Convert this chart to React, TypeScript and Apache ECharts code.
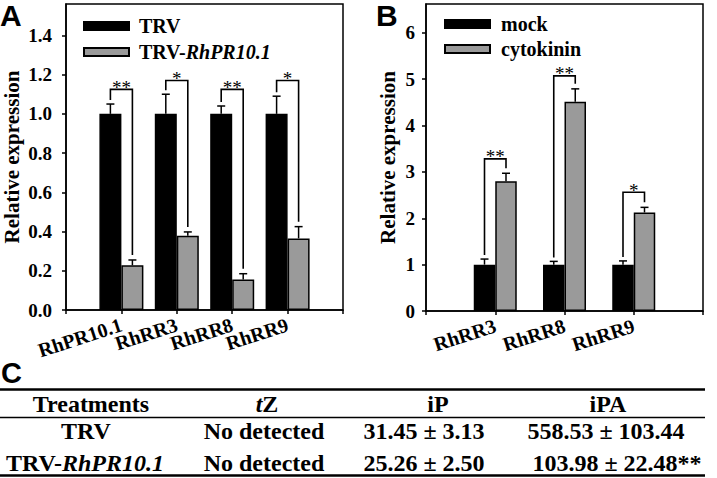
import React, { useEffect, useRef } from 'react';
import * as echarts from 'echarts';

// ---------- Panel A data ----------
const genesA = ['RhPR10.1', 'RhRR3', 'RhRR8', 'RhRR9'];
const trvMean = [1.0, 1.0, 1.0, 1.0];
const trvErr = [0.05, 0.1, 0.04, 0.09];
const silMean = [0.228, 0.378, 0.155, 0.365];
const silErr = [0.027, 0.02, 0.03, 0.06];
const sigA = ['**', '*', '**', '*'];
const bracketA = [1.125, 1.17, 1.125, 1.17];

// ---------- Panel B data ----------
const genesB = ['RhRR3', 'RhRR8', 'RhRR9'];
const mockMean = [1.0, 1.0, 1.0];
const mockErr = [0.12, 0.07, 0.08];
const ckMean = [2.8, 4.51, 2.125];
const ckErr = [0.17, 0.28, 0.11];
const sigB = ['**', '**', '*'];
const bracketB = [3.28, 5.07, 2.56];

// ---------- Table C data ----------
const tableHeaders = ['Treatments', 'tZ', 'iP', 'iPA'];
const tableTreatments = ['TRV', 'TRV-RhPR10.1'];
const tableTZ = ['No detected', 'No detected'];
const tableIP = ['31.45 ± 3.13', '25.26 ± 2.50'];
const tableIPA = ['558.53 ± 103.44', '103.98 ± 22.48**'];

const SERIF = '"Liberation Serif", "Times New Roman", serif';
const SANS = '"Liberation Sans", Arial, sans-serif';
const GRAY = '#9a9a9a';

const richFmt = (s: string) => {
  if (s === 'tZ') return '{i|t}{b|Z}';
  const m = s.match(/^(TRV-)(.+)$/);
  if (m) return `{b|${m[1]}}{i|${m[2]}}`;
  return `{b|${s}}`;
};

const pad = (arr: any[]) => ['-', ...arr, '-'];

function errRender(barW: number, sign: number) {
  return (params: any, api: any) => {
    const x = api.value(0);
    const m = api.value(1);
    const e = api.value(2);
    const base = api.coord([x, m]);
    const top = api.coord([x, m + e]);
    const cx = base[0] + (sign * barW) / 2;
    return {
      type: 'group',
      children: [
        { type: 'line', shape: { x1: cx, y1: base[1], x2: cx, y2: top[1] }, style: { stroke: '#000', lineWidth: 1.5 } },
        { type: 'line', shape: { x1: cx - 4, y1: top[1], x2: cx + 4, y2: top[1] }, style: { stroke: '#000', lineWidth: 1.5 } },
      ],
    };
  };
}

function bracketRender(barW: number, sigs: string[]) {
  return (params: any, api: any) => {
    const x = api.value(0);
    const lTop = api.coord([x, api.value(1)]);
    const rTop = api.coord([x, api.value(2)]);
    const b = api.coord([x, api.value(3)]);
    const xl = lTop[0] - barW / 2;
    const xr = lTop[0] + barW / 2;
    return {
      type: 'group',
      children: [
        {
          type: 'polyline',
          shape: { points: [[xl, lTop[1] - 4], [xl, b[1]], [xr, b[1]], [xr, rTop[1] - 5]] },
          style: { stroke: '#000', lineWidth: 1.6, fill: 'none' },
        },
        {
          type: 'text',
          style: {
            text: sigs[params.dataIndex],
            x: (xl + xr) / 2,
            y: b[1] - 2,
            align: 'center',
            verticalAlign: 'middle',
            fontSize: 19,
            fontFamily: SERIF,
            fill: '#000',
          },
        },
      ],
    };
  };
}

export default function App() {
  const ref = useRef<HTMLDivElement>(null);
  useEffect(() => {
    if (!ref.current) return;
    const chart = echarts.init(ref.current, null, { renderer: 'svg' });
    const BW_A = 22;
    const BW_B = 21.5;
    const axisFont = { fontFamily: SERIF, fontWeight: 'bold' as const, fontSize: 19, color: '#000' };

    const yAxisCommon = (gi: number, max: number, interval: number, nameGap: number, margin: number, fmt: (v: number) => string) => ({
      type: 'value',
      gridIndex: gi,
      min: 0,
      max,
      interval,
      name: 'Relative expression',
      nameLocation: 'middle',
      nameGap,
      nameTextStyle: { ...axisFont, fontSize: 21 },
      axisLine: { show: true, lineStyle: { color: '#000', width: 1.5 } },
      axisTick: { show: true, length: 4, inside: false, lineStyle: { color: '#000', width: 1.5 } },
      axisLabel: { ...axisFont, margin, formatter: fmt, showMaxLabel: false },
      splitLine: { show: false },
    });

    const xAxisCommon = (gi: number, cats: string[]) => ({
      type: 'category',
      gridIndex: gi,
      data: ['', ...cats, ''],
      boundaryGap: false,
      axisLine: { show: true, lineStyle: { color: '#000', width: 1.5 } },
      axisTick: { show: true, length: 4, interval: 0, lineStyle: { color: '#000', width: 1.5 } },
      axisLabel: { ...axisFont, fontSize: 20, interval: 0, rotate: 18, margin: 14 },
      splitLine: { show: false },
    });

    const barStyle = (color: string) => ({ color, borderColor: '#000', borderWidth: 1.5 });

    const tableTexts: any[] = [];
    const txtStyle = (text: string, x: number, y: number) => ({
      type: 'text',
      style: {
        text: richFmt(text),
        x,
        y,
        align: 'center',
        verticalAlign: 'middle',
        fill: '#000',
        rich: {
          b: { fontFamily: SERIF, fontWeight: 'bold', fontSize: 24, fill: '#000' },
          i: { fontFamily: SERIF, fontWeight: 'bold', fontStyle: 'italic', fontSize: 24, fill: '#000' },
        },
      },
    });
    const headerX = [91, 267, 438, 608];
    tableHeaders.forEach((h, i) => tableTexts.push(txtStyle(h, headerX[i], 404)));
    const rowY = [431, 463];
    tableTreatments.forEach((t, r) => {
      tableTexts.push(txtStyle(t, r === 0 ? 86 : 85, rowY[r]));
      tableTexts.push(txtStyle(tableTZ[r], 264, rowY[r]));
      tableTexts.push(txtStyle(tableIP[r], 424, rowY[r]));
      tableTexts.push(txtStyle(tableIPA[r], r === 0 ? 606 : 617, rowY[r]));
    });

    const legendText = {
      padding: 0,
      lineHeight: 18,
      rich: {
        b: { fontFamily: SERIF, fontWeight: 'bold', fontSize: 20, color: '#000' },
        i: { fontFamily: SERIF, fontWeight: 'bold', fontStyle: 'italic', fontSize: 20, color: '#000' },
      },
    };

    const option: any = {
      animation: false,
      backgroundColor: '#fff',
      grid: [
        { left: 66, top: 4, width: 277, height: 306, show: true, borderColor: '#000', borderWidth: 1.5, backgroundColor: 'transparent' },
        { left: 426, top: 4, width: 277, height: 307, show: true, borderColor: '#000', borderWidth: 1.5, backgroundColor: 'transparent' },
      ],
      legend: [
        {
          data: ['TRV', 'TRV-RhPR10.1'],
          orient: 'vertical',
          left: 83,
          top: 16,
          padding: 0,
          itemWidth: 45,
          itemHeight: 8,
          itemGap: 6,
          icon: 'rect',
          formatter: (n: string) => richFmt(n),
          textStyle: { ...legendText, padding: [0, 0, 0, 5] },
        },
        {
          data: ['mock', 'cytokinin'],
          orient: 'vertical',
          left: 444,
          top: 14,
          padding: 0,
          itemWidth: 45,
          itemHeight: 8,
          itemGap: 5,
          icon: 'rect',
          formatter: (n: string) => richFmt(n),
          textStyle: { ...legendText, padding: [0, 0, 0, 6] },
        },
      ],
      xAxis: [xAxisCommon(0, genesA), xAxisCommon(1, genesB)],
      yAxis: [
        yAxisCommon(0, 1.56, 0.2, 44, 14, (v: number) => v.toFixed(1)),
        yAxisCommon(1, 6.62, 1, 28, 11, (v: number) => String(Math.round(v))),
      ],
      series: [
        { type: 'bar', name: 'TRV', xAxisIndex: 0, yAxisIndex: 0, data: pad(trvMean), barWidth: BW_A, barGap: '0%', itemStyle: barStyle('#000') },
        { type: 'bar', name: 'TRV-RhPR10.1', xAxisIndex: 0, yAxisIndex: 0, data: pad(silMean), barWidth: BW_A, barGap: '0%', itemStyle: barStyle(GRAY) },
        { type: 'bar', name: 'mock', xAxisIndex: 1, yAxisIndex: 1, data: pad(mockMean), barWidth: BW_B, barGap: '0%', itemStyle: barStyle('#000') },
        { type: 'bar', name: 'cytokinin', xAxisIndex: 1, yAxisIndex: 1, data: pad(ckMean), barWidth: BW_B, barGap: '0%', itemStyle: barStyle(GRAY) },
        {
          type: 'custom', xAxisIndex: 0, yAxisIndex: 0, z: 5,
          data: genesA.map((_, i) => [i + 1, trvMean[i], trvErr[i]]),
          renderItem: errRender(BW_A, -1),
        },
        {
          type: 'custom', xAxisIndex: 0, yAxisIndex: 0, z: 5,
          data: genesA.map((_, i) => [i + 1, silMean[i], silErr[i]]),
          renderItem: errRender(BW_A, 1),
        },
        {
          type: 'custom', xAxisIndex: 1, yAxisIndex: 1, z: 5,
          data: genesB.map((_, i) => [i + 1, mockMean[i], mockErr[i]]),
          renderItem: errRender(BW_B, -1),
        },
        {
          type: 'custom', xAxisIndex: 1, yAxisIndex: 1, z: 5,
          data: genesB.map((_, i) => [i + 1, ckMean[i], ckErr[i]]),
          renderItem: errRender(BW_B, 1),
        },
        {
          type: 'custom', xAxisIndex: 0, yAxisIndex: 0, z: 6,
          data: genesA.map((_, i) => [i + 1, trvMean[i] + trvErr[i], silMean[i] + silErr[i], bracketA[i]]),
          renderItem: bracketRender(BW_A, sigA),
        },
        {
          type: 'custom', xAxisIndex: 1, yAxisIndex: 1, z: 6,
          data: genesB.map((_, i) => [i + 1, mockMean[i] + mockErr[i], ckMean[i] + ckErr[i], bracketB[i]]),
          renderItem: bracketRender(BW_B, sigB),
        },
      ],
      graphic: [
        { type: 'text', left: 0, top: 0, style: { text: 'A', font: `bold 30px ${SANS}`, fill: '#000' } },
        { type: 'text', left: 376, top: 0, style: { text: 'B', font: `bold 30px ${SANS}`, fill: '#000' } },
        { type: 'text', left: 1, top: 358, style: { text: 'C', font: `bold 29px ${SANS}`, fill: '#000' } },
        { type: 'line', shape: { x1: 0, y1: 389.5, x2: 705, y2: 389.5 }, style: { stroke: '#000', lineWidth: 2.5 } },
        { type: 'line', shape: { x1: 0, y1: 417.5, x2: 705, y2: 417.5 }, style: { stroke: '#000', lineWidth: 1.3 } },
        { type: 'line', shape: { x1: 0, y1: 475.5, x2: 705, y2: 475.5 }, style: { stroke: '#000', lineWidth: 2.5 } },
        ...tableTexts,
      ],
    };
    chart.setOption(option);
    return () => chart.dispose();
  }, []);
  return <div ref={ref} style={{ position: 'fixed', left: 0, top: 0, width: 717, height: 478, background: '#fff' }} />;
}
